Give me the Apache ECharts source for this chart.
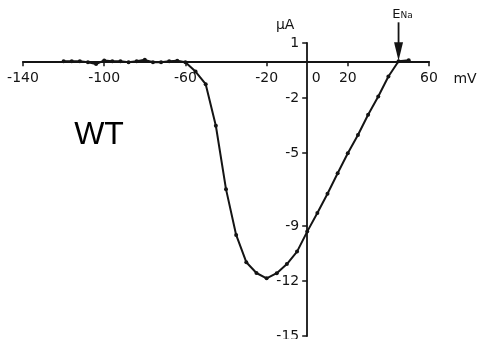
<!DOCTYPE html>
<html>
<head>
<meta charset="utf-8">
<script src="https://cdn.jsdelivr.net/npm/echarts@6/dist/echarts.min.js"></script>
<style>
  html, body { margin: 0; padding: 0; background: #fff; }
  #chart { width: 482px; height: 339px; }
</style>
</head>
<body>
<div id="chart"></div>
<script>
// Membrane potential (mV) and peak sodium current (µA), wild type
const voltage = [-120, -116, -112, -108, -104, -100, -96, -92, -88, -84, -80, -76, -72, -68, -64,
  -60, -55, -50, -45, -40, -35, -30, -25, -20, -15, -10, -5, 0, 5, 10, 15, 20, 25, 30, 35, 40, 45, 50];
const current = [0, 0, 0, -0.05, -0.15, 0.05, 0, 0, -0.05, 0, 0.08, -0.05, -0.05, 0, 0.03,
  -0.05, -0.56, -1.25, -3.52, -6.98, -9.48, -10.97, -11.56, -11.85, -11.57, -11.07, -10.39, -9.3,
  -8.28, -7.23, -6.11, -5.02, -4.02, -2.92, -1.92, -0.83, 0, 0.06];

const xTicks = [-140, -100, -60, -20, 0, 20, 60];
const yTicks = [1, -2, -5, -9, -12, -15];
const reversalPotential = 45;

const ink = '#141414';
const font = 'DejaVu Sans';

const chart = echarts.init(document.getElementById('chart'), null, { renderer: 'canvas' });

chart.setOption({
  animation: false,
  backgroundColor: '#fff',
  grid: { left: 23, right: 53, top: 43, bottom: 3, containLabel: false, outerBoundsMode: 'none' },
  xAxis: {
    type: 'value',
    min: -140,
    max: 60,
    position: 'bottom',
    offset: 0,
    axisLine: { onZero: false, lineStyle: { color: ink, width: 1.8 } },
    axisTick: { customValues: xTicks.filter(v => v !== 0), length: 5, lineStyle: { color: ink, width: 1.5 } },
    axisLabel: {
      customValues: xTicks,
      margin: 10,
      color: ink,
      fontFamily: font,
      fontSize: 14,
      hideOverlap: false,
      formatter: v => (v === 0 ? '{z|0}' : String(v)),
      rich: { z: { padding: [0, 0, 0, 18], fontFamily: font, fontSize: 14, color: ink } }
    },
    splitLine: { show: false }
  },
  yAxis: {
    type: 'value',
    min: -15,
    max: 1,
    position: 'left',
    offset: 0,
    axisLine: { onZero: false, lineStyle: { color: ink, width: 1.8 } },
    axisTick: { customValues: yTicks, length: 5, lineStyle: { color: ink, width: 1.5 } },
    axisLabel: { customValues: yTicks, margin: 8, color: ink, fontFamily: font, fontSize: 14, hideOverlap: false },
    splitLine: { show: false }
  },
  series: [{
    type: 'line',
    data: voltage.map((v, i) => [v, current[i]]),
    symbol: 'circle',
    symbolSize: 4,
    showSymbol: true,
    lineStyle: { color: ink, width: 2 },
    itemStyle: { color: ink },
    clip: false,
    z: 3
  }]
});

// Move both axes (with ticks and labels) onto the zero lines so they cross at the origin
const zero = chart.convertToPixel({ gridIndex: 0 }, [0, 0]);
const corner = chart.convertToPixel({ gridIndex: 0 }, [-140, -15]);
chart.setOption({
  xAxis: { offset: zero[1] - corner[1] },
  yAxis: { offset: corner[0] - zero[0] }
});

// Annotations: axis units, reversal-potential arrow and the construct label
const origin = chart.convertToPixel({ gridIndex: 0 }, [0, 1]);
const xEnd = chart.convertToPixel({ gridIndex: 0 }, [60, 0]);
const tip = chart.convertToPixel({ gridIndex: 0 }, [reversalPotential, 0]);

chart.setOption({
  graphic: [
    {
      type: 'text', x: origin[0] - 22, y: origin[1] - 18,
      style: { text: 'µA', fill: ink, font: '14px "DejaVu Sans"', align: 'center', verticalAlign: 'middle' }
    },
    {
      type: 'text', x: xEnd[0] + 36, y: xEnd[1] + 18,
      style: { text: 'mV', fill: ink, font: '14px "DejaVu Sans"', align: 'center', verticalAlign: 'middle' }
    },
    {
      type: 'line',
      shape: { x1: tip[0], y1: tip[1] - 39, x2: tip[0], y2: tip[1] - 15 },
      style: { stroke: ink, lineWidth: 1.8 }
    },
    {
      type: 'polygon',
      shape: { points: [[tip[0] - 4.5, tip[1] - 19], [tip[0] + 4.5, tip[1] - 19], [tip[0], tip[1] - 0.5]] },
      style: { fill: ink }
    },
    {
      type: 'text', x: tip[0] + 4, y: tip[1] - 47,
      style: {
        text: '{e|E}{s|Na}',
        align: 'center', verticalAlign: 'middle',
        rich: {
          e: { fontFamily: font, fontSize: 13, fill: ink, color: ink },
          s: { fontFamily: font, fontSize: 9, fill: ink, color: ink, padding: [3, 0, 0, 0] }
        }
      }
    },
    {
      type: 'text', x: 99, y: 135,
      style: { text: 'WT', fill: '#000', font: '32px "Liberation Sans"', align: 'center', verticalAlign: 'middle' }
    }
  ]
});
</script>
</body>
</html>
